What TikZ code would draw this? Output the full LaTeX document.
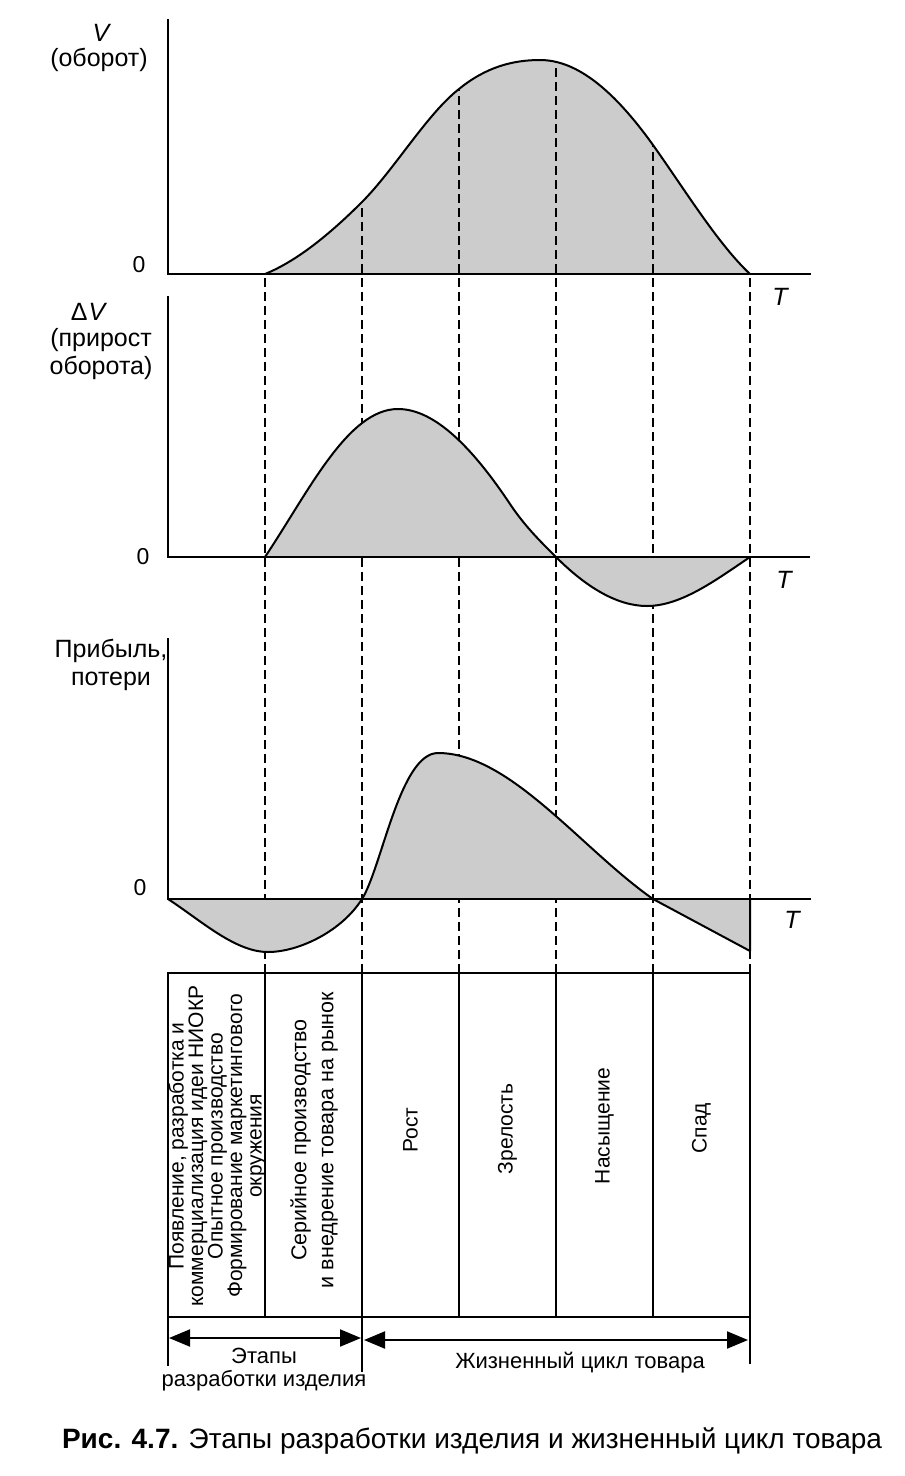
\documentclass[tikz,border=0pt]{standalone}
\usepackage{fontspec}
\setmainfont{Liberation Sans}
\usetikzlibrary{arrows.meta}
\newcommand\myfs[2]{\fontsize{#1pt}{#2pt}\selectfont}
\begin{document}
\begin{tikzpicture}[x=1pt,y=-1pt,
  axisline/.style={line width=2.4pt, line join=miter},
  curveline/.style={line width=2pt, line join=round},
  shadefill/.style={fill=black!20},
  guide/.style={line width=1.8pt, dash pattern=on 9pt off 5pt},
  gridline/.style={line width=2pt},
  lab/.style={font=\myfs{25}{28}, align=center, inner sep=0pt},
  zero/.style={font=\myfs{23}{27}, inner sep=0pt},
  tlab/.style={font=\myfs{25}{27}\itshape, inner sep=0pt},
  cell/.style={rotate=90, align=center, inner sep=0pt},
  dimarrow/.style={line width=2pt, {Triangle[length=21pt,width=17pt]}-{Triangle[length=21pt,width=17pt]}},
  botlab/.style={font=\myfs{22}{23}, align=center, inner sep=0pt}
]
\useasboundingbox (0,0) rectangle (905,1476);

% ---------------- top chart fill ----------------
\fill[shadefill] (265,274) .. controls (297,261) and (330,234) .. (362,202)
  .. controls (394,170) and (427,114) .. (459,89)
  .. controls (486,67) and (513,60) .. (540,60)
  .. controls (578,60) and (615,92) .. (653,145)
  .. controls (685,190) and (718,244) .. (750,274) -- cycle;

% ---------------- dashed guide lines (start at the top curve) ----------------
\begin{scope}
  \clip (0,274) -- (265,274) .. controls (297,261) and (330,234) .. (362,202)
    .. controls (394,170) and (427,114) .. (459,89)
    .. controls (486,67) and (513,60) .. (540,60)
    .. controls (578,60) and (615,92) .. (653,145)
    .. controls (685,190) and (718,244) .. (750,274)
    -- (905,274) -- (905,1476) -- (0,1476) -- cycle;
  \foreach \gx in {265,362,459,556,653,750}
    \draw[guide] (\gx,40) -- (\gx,973);
\end{scope}

% ---------------- top chart ----------------
\draw[curveline] (265,274) .. controls (297,261) and (330,234) .. (362,202)
  .. controls (394,170) and (427,114) .. (459,89)
  .. controls (486,67) and (513,60) .. (540,60)
  .. controls (578,60) and (615,92) .. (653,145)
  .. controls (685,190) and (718,244) .. (750,274);
\draw[axisline] (168,19) -- (168,274) -- (811,274);
\node[tlab] (vlab) at (101,33) {V};
\node[lab] (vtxt) at (99,60) {(оборот)};
\node[zero] (z1) at (139,265) {0};
\node[tlab] (t1) at (780,297) {T};

% ---------------- delta V chart ----------------
\fill[shadefill] (265,557) .. controls (309,491) and (348,409) .. (398,409)
  .. controls (435,409) and (473,448.5) .. (510,504)
  .. controls (525,526.5) and (541,542) .. (556,557)
  .. controls (586,587) and (617,606) .. (647,606)
  .. controls (681,606) and (716,580) .. (750,557) -- cycle;
\draw[curveline] (265,557) .. controls (309,491) and (348,409) .. (398,409)
  .. controls (435,409) and (473,448.5) .. (510,504)
  .. controls (525,526.5) and (541,542) .. (556,557)
  .. controls (586,587) and (617,606) .. (647,606)
  .. controls (681,606) and (716,580) .. (750,557);
\draw[axisline] (168,296) -- (168,557) -- (810,557);
\node[lab] (dvlab) at (89,312) {Δ\kern1pt\textit{V}};
\node[lab] (dvtxt) at (101,354) {(прирост\\оборота)};
\node[zero] (z2) at (143,557) {0};
\node[tlab] (t2) at (784,580) {T};

% ---------------- profit chart ----------------
\fill[shadefill] (168,899) .. controls (201,920.5) and (235,952) .. (268,952)
  .. controls (299,952) and (342,931) .. (362,899)
  .. controls (382,867) and (400,753) .. (438,753)
  .. controls (510,753) and (581,848.6) .. (653,899)
  -- (750,951) -- (750,899) -- cycle;
\draw[curveline] (168,899) .. controls (201,920.5) and (235,952) .. (268,952)
  .. controls (299,952) and (342,931) .. (362,899)
  .. controls (382,867) and (400,753) .. (438,753)
  .. controls (510,753) and (581,848.6) .. (653,899)
  -- (750,951) -- (750,899);
\draw[axisline] (168,638) -- (168,899) -- (811,899);
\node[lab] (prtxt) at (111,665) {Прибыль,\\потери};
\node[zero] (z3) at (140,888) {0};
\node[tlab] (t3) at (792,920) {T};

% ---------------- table ----------------
\draw[gridline] (168,973) rectangle (750,1317);
\foreach \gx in {265,459,556,653}
  \draw[gridline] (\gx,973) -- (\gx,1317);
\draw[gridline] (168,1317) -- (168,1366);
\draw[gridline] (362,973) -- (362,1372);
\draw[gridline] (750,1317) -- (750,1364);

\node[cell, font=\myfs{21}{19.5}] (c1) at (217,1146)
  {Появление, разработка и\\коммерциализация идеи НИОКР\\Опытное производство\\Формирование маркетингового\\окружения};
\node[cell, font=\myfs{21.5}{27}] (c2) at (314,1140)
  {Серийное производство\\и внедрение товара на рынок};
\node[cell, font=\myfs{21}{25}] (c3) at (410.5,1130) {Рост};
\node[cell, font=\myfs{21}{25}] (c4) at (507.5,1129) {Зрелость};
\node[cell, font=\myfs{21}{25}] (c5) at (604.5,1126) {Насыщение};
\node[cell, font=\myfs{21}{25}] (c6) at (701.5,1128) {Спад};

% ---------------- bottom arrows ----------------
\coordinate (aL) at (169,1338);
\coordinate (aM1) at (361,1338);
\coordinate (aM2) at (364,1340);
\coordinate (aR) at (748,1340);
\draw[dimarrow] (aL) -- (aM1);
\draw[dimarrow] (aM2) -- (aR);
\node[botlab] (stages) at (264,1370) {Этапы\\разработки изделия};
\node[botlab] (cycle) at (580,1363) {Жизненный цикл товара};

% ---------------- caption ----------------
\node[font=\myfs{28}{30}, inner sep=0pt] (cap) at (472,1441)
  {{\bfseries Рис. 4.7.} Этапы разработки изделия и жизненный цикл товара};
\end{tikzpicture}
\end{document}
